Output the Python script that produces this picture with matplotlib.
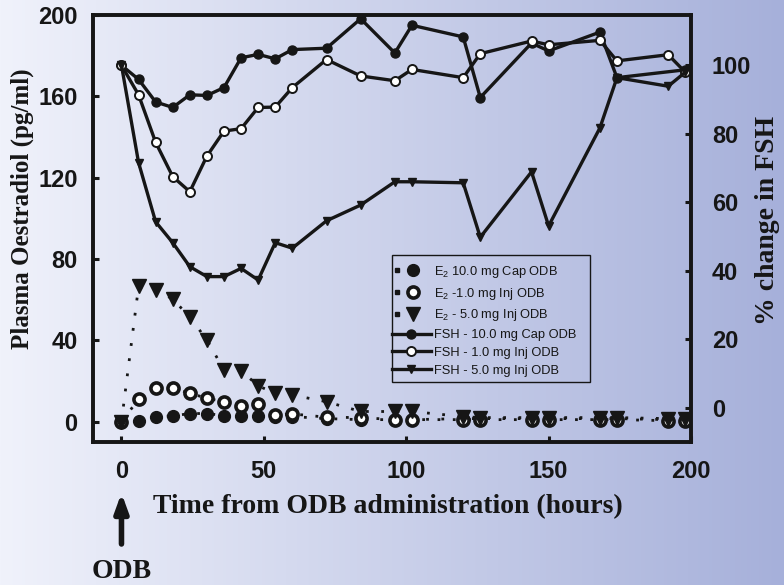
import numpy as np
import matplotlib
matplotlib.use("Agg")
import matplotlib.pyplot as plt
from matplotlib import transforms
from matplotlib.lines import Line2D
from matplotlib.patches import Rectangle
from matplotlib.legend_handler import HandlerBase

# ---- data -------------------------------------------------------------
hours = [0, 6, 12, 18, 24, 30, 36, 42, 48, 54, 60, 72, 84, 96, 102,
         120, 126, 144, 150, 168, 174, 192, 198]
hours_cap = [0, 6, 12, 18, 24, 30, 36, 42, 48, 54, 60, 72, 84, 96, 102,
             120, 126, 144, 150, 168, 174, 198]

# plasma oestradiol (pg/ml)
e2_cap10 = [0, 0.5, 2.5, 2.8, 4.0, 4.0, 3.0, 2.8, 2.8, 2.5, 2.5, 1.5, 1.0, 1.0, 1.0,
            1.5, 1.5, 1.5, 1.5, 1.5, 1.5, 1.0, 1.0]
e2_inj1 = [0, 11.0, 16.4, 16.4, 14.0, 11.5, 9.8, 7.9, 8.7, 3.3, 3.8, 2.2, 2.0, 1.0, 1.0,
           1.0, 1.0, 1.0, 1.0, 1.0, 1.0, 0.5, 0.5]
e2_inj5 = [0, 66.5, 64.8, 60.3, 51.4, 40.2, 25.4, 25.1, 17.6, 14.0, 13.1, 9.8, 5.0, 5.0, 5.0,
           2.5, 2.0, 2.0, 2.0, 2.0, 2.0, 1.5, 1.5]

# % change in FSH
fsh_cap10 = [100, 95.9, 89.3, 87.7, 91.4, 91.2, 93.5, 102.2, 103.2, 101.9, 104.6, 105.0,
             113.6, 103.6, 111.7, 108.3, 90.6, 106.5, 104.2, 109.7, 96.4, 98.7]
fsh_inj1 = [100, 91.4, 77.5, 67.5, 63.1, 73.5, 80.8, 81.5, 87.7, 87.8, 93.5, 101.7,
            96.9, 95.5, 98.8, 96.4, 103.4, 107.1, 106.0, 107.3, 101.3, 103.1, 98.0]
fsh_inj5 = [100, 71.6, 54.3, 48.2, 41.2, 38.3, 38.3, 40.7, 37.3, 48.2, 46.6, 54.6,
            59.2, 66.0, 66.0, 65.7, 49.8, 68.9, 53.1, 81.7, 96.4, 93.9, 98.0]

x_ticks = [0, 50, 100, 150, 200]
e2_ticks = [0, 40, 80, 120, 160, 200]
fsh_ticks = [0, 20, 40, 60, 80, 100]

labels = ["E$_2$ 10.0 mg Cap ODB", "E$_2$ -1.0 mg Inj ODB", "E$_2$ - 5.0 mg Inj ODB",
          "FSH - 10.0 mg Cap ODB", "FSH - 1.0 mg Inj ODB", "FSH - 5.0 mg Inj ODB"]

# ---- style ------------------------------------------------------------
plt.rcParams["mathtext.fontset"] = "custom"
plt.rcParams["mathtext.rm"] = "Liberation Sans"
plt.rcParams["mathtext.it"] = "Liberation Sans"
ink = "#161616"
sans = "Liberation Sans"
serif = "Liberation Serif"

W, H = 784, 585
fig = plt.figure(figsize=(W / 100, H / 100), dpi=100)

# horizontal background gradient
bg = fig.add_axes([0, 0, 1, 1], zorder=-10)
left_c = np.array([240, 242, 251]) / 255
right_c = np.array([166, 176, 218]) / 255
t = np.linspace(0, 1, 400)[None, :, None]
grad = left_c[None, None, :] * (1 - t) + right_c[None, None, :] * t
bg.imshow(np.repeat(grad, 2, axis=0), aspect="auto", extent=[0, 1, 0, 1])
bg.axis("off")

x0, x1 = 93 / W, 691 / W
y0, y1 = 1 - 442 / H, 1 - 15 / H
ax = fig.add_axes([x0, y0, x1 - x0, y1 - y0])
ax2 = ax.twinx()
for a in (ax, ax2):
    a.patch.set_visible(False)
    for s in a.spines.values():
        s.set_linewidth(2.6)
        s.set_color(ink)

ax.set_xlim(-10, 200)
ax.set_ylim(-10, 200)
ax2.set_ylim(-10, 114.7)

dot = (0, (1, 4.5))
e2_kw = dict(color=ink, lw=2.0, ls=dot, dash_capstyle="butt")
h1, = ax.plot(hours, e2_cap10, marker="o", ms=8.5, mfc=ink, mec=ink, **e2_kw)
h2, = ax.plot(hours, e2_inj1, marker="o", ms=8.0, mfc="white", mec=ink, mew=2.6, **e2_kw)
h3, = ax.plot(hours, e2_inj5, marker="v", ms=9.5, mfc=ink, mec=ink, **e2_kw)

f_kw = dict(color=ink, lw=2.4, solid_joinstyle="round")
h4, = ax2.plot(hours_cap, fsh_cap10, marker="o", ms=6.5, mfc=ink, mec=ink, **f_kw)
h5, = ax2.plot(hours, fsh_inj1, marker="o", ms=6.5, mfc="white", mec=ink, mew=1.4, **f_kw)
h6, = ax2.plot(hours, fsh_inj5, marker="v", ms=5.5, mfc=ink, mec=ink, **f_kw)

tick_font = dict(family=sans, weight="bold", size=17)
ax.set_xticks(x_ticks)
ax.set_yticks(e2_ticks)
ax2.set_yticks(fsh_ticks)
ax.set_xticklabels([str(v) for v in x_ticks], fontdict=tick_font)
ax.set_yticklabels([str(v) for v in e2_ticks], fontdict=tick_font)
ax2.set_yticklabels([str(v) for v in fsh_ticks], fontdict=tick_font)
ax.tick_params(axis="x", direction="in", length=4, width=2.2, color=ink, pad=13, labelcolor=ink)
ax.tick_params(axis="y", direction="in", length=4, width=2.2, color=ink, pad=11, labelcolor=ink)
ax2.tick_params(axis="y", direction="in", length=4, width=2.2, color=ink, pad=15, labelcolor=ink)

def serif_font(size):
    return dict(family=serif, weight="bold", size=size, color=ink)

fig.text(22 / W, 1 - 209 / H, "Plasma Oestradiol (pg/ml)", rotation=90,
         ha="center", va="center", **serif_font(18))
fig.text(767 / W, 1 - 220 / H, "% change in FSH", rotation=90,
         ha="center", va="center", **serif_font(20))
fig.text(388 / W, 1 - 507 / H, "Time from ODB administration (hours)",
         ha="center", va="center", **serif_font(20))

# arrow marking the time of administration
trans = transforms.blended_transform_factory(ax.transData, fig.transFigure)
ax.annotate("", xy=(0, 1 - 493 / H), xytext=(0, 1 - 544 / H),
            xycoords=trans, textcoords=trans, annotation_clip=False,
            arrowprops=dict(arrowstyle="-|>,head_length=1.1,head_width=0.4",
                            lw=4, color=ink, shrinkA=0, shrinkB=0))
ax.text(0, 1 - 572 / H, "ODB", transform=trans, ha="center", va="center",
        **serif_font(20))


class DotThenMarker(HandlerBase):
    """Legend key: a single small dot followed by the series marker."""

    def create_artists(self, legend, orig_handle, xdescent, ydescent,
                       width, height, fontsize, trans):
        y = height / 2 - ydescent
        lead = Line2D([width * 0.12 - xdescent], [y], ls="none", marker="s",
                      ms=2.2, mfc=ink, mec=ink)
        mk = Line2D([width * 0.55 - xdescent], [y], ls="none",
                    marker=orig_handle.get_marker(), ms=orig_handle.get_markersize(),
                    mfc=orig_handle.get_markerfacecolor(),
                    mec=orig_handle.get_markeredgecolor(),
                    mew=orig_handle.get_markeredgewidth())
        for art in (lead, mk):
            art.set_transform(trans)
        return [lead, mk]


handler = DotThenMarker()
leg = ax2.legend([h1, h2, h3, h4, h5, h6], labels, loc="upper left",
                 bbox_to_anchor=(392 / W, 1 - 264 / H), bbox_transform=fig.transFigure,
                 borderaxespad=0, borderpad=0, frameon=False,
                 prop=dict(family=sans, size=9.3),
                 handlelength=3.0, handletextpad=0.25, labelspacing=0.44,
                 handler_map={h1: handler, h2: handler, h3: handler})
for txt in leg.get_texts():
    txt.set_color(ink)

# legend frame
fig.patches.append(Rectangle((392 / W, 1 - 382 / H), (590 - 392) / W, (382 - 255) / H,
                             transform=fig.transFigure, fill=False, ec=ink, lw=1.0,
                             zorder=5))

fig.savefig("out.png", dpi=100)
